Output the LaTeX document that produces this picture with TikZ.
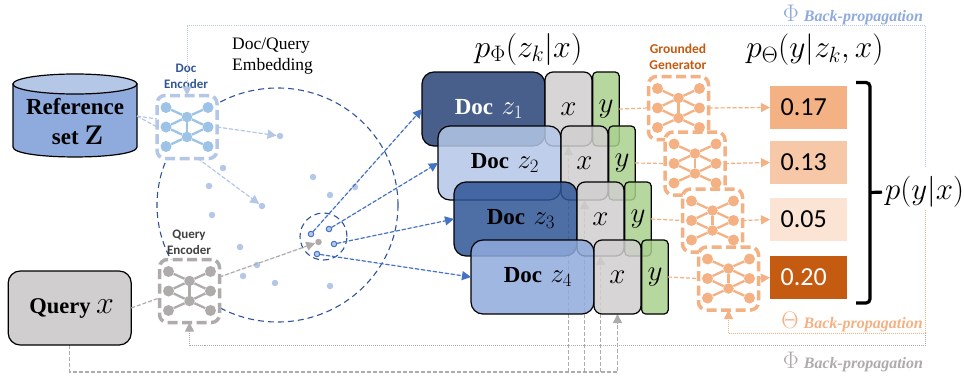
\documentclass[tikz,border=0pt]{standalone}
\usepackage{fix-cm}
\usepackage[no-math]{fontspec}
\usepackage{xcolor}
\usepackage{tikz}
\usetikzlibrary{arrows.meta,backgrounds,shapes.geometric}
\setmainfont{Liberation Serif}
\newfontfamily\labelfont{Carlito}

\definecolor{lightblue}{HTML}{B4C7E7}
\definecolor{unitblue}{HTML}{9DC3E6}
\definecolor{midblue}{HTML}{8FAADC}
\definecolor{darkblue}{HTML}{2F5597}
\definecolor{navyblue}{HTML}{274375}
\definecolor{arrowblue}{HTML}{4472C4}
\definecolor{boxgray}{HTML}{D0CECE}
\definecolor{netgray}{HTML}{AFABAB}
\definecolor{boxgreen}{HTML}{A9D18E}
\definecolor{netorange}{HTML}{F4B183}
\definecolor{burnt}{HTML}{C55A11}

\tikzset{
	netframe/.style={draw, fill=white, rectangle, rounded corners=8pt, minimum width=60pt, minimum height=63pt, line width=3.5pt, dash pattern=on 10pt off 4.5pt, outer sep=0pt},
	netunit/.style={circle, inner sep=0pt, minimum size=11pt},
	netmid/.style={circle, inner sep=0pt, minimum size=10.5pt},
	netlink/.style={line width=2.3pt},
	embdot/.style={circle, fill=lightblue, inner sep=0pt, minimum size=6.5pt},
	pickdot/.style={circle, draw=arrowblue, fill=lightblue, line width=1pt, inner sep=0pt, minimum size=5.5pt},
	spaceline/.style={draw=darkblue, dash pattern=on 6pt off 4pt, line width=1.1pt, inner sep=0pt},
	tipdash/.style={dash pattern=on 4pt off 2pt, line width=1.2pt, -{Triangle[length=9pt,width=9pt]}},
	plaindash/.style={dash pattern=on 4pt off 2pt, line width=1.2pt},
	backdot/.style={densely dotted, line width=1pt},
	backtip/.style={-{Triangle[length=9pt,width=9pt]}},
	docbox/.style={draw=black, line width=1.2pt, rectangle, rounded corners=12pt, minimum width=123pt, minimum height=74pt, fill opacity=0.85, text opacity=1, outer sep=0pt},
	xbox/.style={draw=black, fill=boxgray, line width=1.2pt, rectangle, rounded corners=8pt, minimum width=47pt, minimum height=74pt, fill opacity=0.85, text opacity=1, anchor=west, outer sep=0pt},
	ybox/.style={draw=black, fill=boxgreen, line width=1.2pt, rectangle, rounded corners=4pt, minimum width=26.5pt, minimum height=74pt, fill opacity=0.85, text opacity=1, anchor=west, xshift=0.7pt, outer sep=0pt},
	valbox/.style={rectangle, minimum width=77pt, minimum height=43pt, outer sep=0pt, font=\labelfont\fontsize{26}{26}\selectfont},
	netlabel/.style={align=center, inner sep=0pt, font=\labelfont\bfseries\fontsize{13}{16}\selectfont},
	backlabel/.style={inner sep=0pt, font=\fontsize{16}{16}\selectfont\bfseries\itshape},
}

% big math inside the boxes
\newcommand{\sizedmath}[2]{{\fontsize{#1}{#1}\selectfont$#2$}}

% one small network with its dashed frame
\newcommand{\netpic}[5]{%
	\node[netframe, draw=#4] (#1) at (#2,#3) {};
	\begin{scope}[shift={(#2,#3)}]
		\foreach \r/\ry in {1/-19.5,2/0,3/19.5} {
			\node[netunit, fill=#5] (#1l\r) at (-21,\ry) {};
			\node[netunit, fill=#5] (#1r\r) at (21,\ry) {};
		}
		\node[netmid, fill=#5] (#1m1) at (0,-10) {};
		\node[netmid, fill=#5] (#1m2) at (0,10) {};
		\foreach \a/\b in {l1/m1,r1/m1,l2/m1,r2/m1,l2/m2,r2/m2,l3/m2,r3/m2,m1/m2}
			\draw[netlink, draw=#5] (#1\a) -- (#1\b);
	\end{scope}
}

\begin{document}
\begin{tikzpicture}[x=1pt, y=-1pt]
	\path[use as bounding box] (0,0) rectangle (964,375);

	% embedding space
	\node[ellipse, spaceline, minimum width=241pt, minimum height=234pt] (space) at (277.5,205) {};
	\node[circle, spaceline, minimum size=47pt] (nearby) at (323.5,236.5) {};
	\foreach \n/\px/\py in {1/280/136,2/223/168,3/209/186,4/262/206,5/212/215,6/240/247,7/257/265,8/243/276,9/275/283,10/313/177,11/330/195,12/355/187,13/330/286}
		\node[embdot] (dot\n) at (\px,\py) {};

	% encoders
	\netpic{docenc}{187}{127}{lightblue}{unitblue}
	\netpic{queryenc}{189.5}{291}{netgray}{netgray}
	\node[netlabel, text=darkblue] (doclabel) at (186,76) {Doc\\Encoder};
	\node[netlabel, text=black!75] (querylabel) at (189,242.5) {Query\\Encoder};
	\node[align=left, anchor=west, inner sep=0pt, font=\fontsize{17.5}{21}\selectfont] (spacelabel) at (232,56.5) {Doc/Query\\Embedding};

	% inputs
	\node[ellipse, draw=black, fill=lightblue, line width=1.2pt, minimum width=124pt, minimum height=20pt, inner sep=0pt, outer sep=0pt] (reftop) at (75,84) {};
	\coordinate (refleft) at (13,147);
	\coordinate (refright) at (137,147);
	\coordinate (refport) at (137,116);
	\begin{pgfonlayer}{background}
		\draw[fill=midblue, line width=1.2pt] (reftop.west) -- (refleft) .. controls (13,160.3) and (137,160.3) .. (refright) -- (reftop.east) -- cycle;
	\end{pgfonlayer}
	\node[align=center, inner sep=0pt, font=\bfseries\fontsize{23}{30}\selectfont] (reflabel) at (75,122) {Reference\\\hspace*{5pt}set \sizedmath{27}{\mathbf{Z}}};
	\node[draw=black, fill=boxgray, line width=1.2pt, rectangle, rounded corners=12pt, minimum width=123pt, minimum height=74pt, outer sep=0pt] (query) at (69.7,308) {\hspace*{4pt}\textbf{\fontsize{22.5}{22.5}\selectfont Query}\hspace{3pt} \sizedmath{32}{x}};

	\draw[plaindash, draw=lightblue] (refport) -- (docenc.165);
	\draw[plaindash, draw=lightblue] (refport) -- (docenc.west);
	\draw[tipdash, draw=lightblue, fill=lightblue] (docenc.east) -- (dot1);
	\draw[tipdash, draw=lightblue, fill=lightblue] (docenc.-71) -- (dot4);
	\draw[plaindash, draw=netgray] (query.east) -- (queryenc.193);
	\node[circle, fill=netgray, inner sep=0pt, minimum size=6.5pt] (querydot) at (318.5,242) {};
	\draw[tipdash, draw=netgray, fill=netgray] (queryenc.25) -- (querydot);

	% retrieved documents, each one laid over the one before
	\foreach \k/\cx/\cy/\col/\txt in {1/483.5/109/navyblue/white,2/499.5/163/lightblue/black,3/515.5/219/darkblue/black,4/532.5/277/midblue/black} {
		\node[docbox, fill=\col, text=\txt] (doc\k) at (\cx,\cy) {\hspace*{11pt}\textbf{\fontsize{23}{23}\selectfont Doc}\hspace{6pt} \sizedmath{27}{z_\k}};
		\node[xbox] (x\k) at (doc\k.east) {\sizedmath{29}{x}};
		\node[ybox] (y\k) at (x\k.east) {\sizedmath{29}{y}};
	}

	% neighbours picked up from the embedding
	\node[pickdot] (pick1) at (311,234) {};
	\node[pickdot] (pick2) at (329,229) {};
	\node[pickdot] (pick3) at (334,244) {};
	\node[pickdot] (pick4) at (317,254) {};
	\draw[tipdash, draw=arrowblue, fill=arrowblue] (pick1) -- (doc1.west);
	\draw[tipdash, draw=arrowblue, fill=arrowblue] (pick2) -- (doc2.west);
	\draw[tipdash, draw=arrowblue, fill=arrowblue] (pick3) -- (doc3.west);
	\draw[tipdash, draw=arrowblue, fill=arrowblue] (pick4) -- (doc4.west);

	% generators and their scores
	\netpic{gen1}{678.5}{108}{netorange}{netorange}
	\netpic{gen2}{695}{163.5}{netorange}{netorange}
	\netpic{gen3}{712.5}{220.5}{netorange}{netorange}
	\netpic{gen4}{728.5}{278.5}{netorange}{netorange}
	\node[netlabel, text=burnt, font=\labelfont\bfseries\fontsize{13.5}{16}\selectfont] (genlabel) at (678,57) {Grounded\\Generator};

	\foreach \k/\vy/\col/\txt/\val in {1/107.5/netorange/black/0.17,2/162.5/netorange!70/black/0.13,3/219.5/netorange!35/black/0.05,4/277.5/burnt/white/0.20} {
		\node[valbox, fill=\col, text=\txt] (val\k) at (808.5,\vy) {\hspace*{-9.5pt}\val};
		\draw[plaindash, draw=netorange] (y\k.east) -- (gen\k.west);
		\draw[tipdash, draw=netorange, fill=netorange] (gen\k.east) -- (val\k.west);
	}

	% formulas
	\node[inner sep=0pt] (priorlabel) at (528.5,49) {\sizedmath{32}{p_{\Phi}(z_k|x)}};
	\node[inner sep=0pt] (likelabel) at (815,50) {\sizedmath{31.5}{p_{\Theta}(y|z_k,x)}};
	\coordinate (bracetop) at (856,82.5);
	\coordinate (bracebot) at (856,303);
	\coordinate (bracemid) at (870,192.5);
	\node[inner sep=0pt, anchor=west] (marginal) at (885,192) {\sizedmath{31}{p(y|x)}};
	\draw[line width=3.2pt, rounded corners=4pt] (bracetop) -| (bracemid) |- (bracebot);
	\draw[line width=3.2pt, shorten >=3pt] (bracemid) -- (marginal.west);

	% back-propagation paths
	\node[backlabel, text=midblue] (phitop) at (853,15) {{\fontsize{24}{24}\selectfont$\Phi$}\hspace{1pt} Back-propagation};
	\node[backlabel, text=netorange] (thetalabel) at (852,322) {{\fontsize{24}{24}\selectfont$\Theta$}\hspace{1pt} Back-propagation};
	\node[backlabel, text=netgray] (phibottom) at (853,362) {{\fontsize{24}{24}\selectfont$\Phi$}\hspace{1pt} Back-propagation};
	\coordinate (topcorner) at (925,25.5);
	\coordinate (topend) at (925,167);
	\coordinate (thetacorner) at (925,333);
	\coordinate (thetaend) at (925,210);
	\coordinate (graycorner) at (925,345.5);
	\draw[backdot, backtip, draw=lightblue] (topend) -- (topcorner) -- (docenc.north |- topcorner) -- (docenc.north);
	\draw[backdot, backtip, draw=netorange] (thetaend) -- (thetacorner) -- (gen4.south |- thetacorner) -- (gen4.south);
	\draw[backdot, backtip, draw=netgray] (thetacorner) -- (graycorner) -- (queryenc.south |- graycorner) -- (queryenc.south);

	\begin{pgfonlayer}{background}
		\coordinate (xbus) at (x4.south |- 0,372);
		\draw[plaindash, backtip, draw=netgray, line width=1.5pt] (query.south) |- (xbus) -- (x4.south);
		\foreach \k in {1,2,3}
			\draw[plaindash, backtip, draw=netgray, line width=1.5pt] (x\k.south |- xbus) -- (x\k.south);
	\end{pgfonlayer}
\end{tikzpicture}
\end{document}
